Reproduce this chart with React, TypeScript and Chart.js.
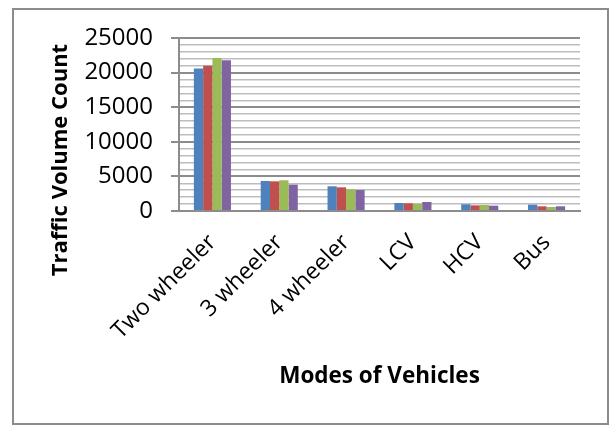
import { useEffect, useRef } from "react";
import { Chart, registerables } from "chart.js";

Chart.register(...registerables);

const categories = ["Two wheeler", "3 wheeler", "4 wheeler", "LCV", "HCV", "Bus"];
const series1 = [20600, 4340, 3570, 1160, 970, 920];
const series2 = [21000, 4290, 3420, 1110, 820, 680];
const series3 = [22100, 4440, 3130, 1010, 870, 580];
const series4 = [21800, 3810, 3030, 1300, 770, 680];
const seriesNames = ["Series1", "Series2", "Series3", "Series4"];
const seriesColors = ["#4F81BD", "#C0504D", "#9BBB59", "#8064A2"];
const yMax = 25000;
const yMinorStep = 1000;
const yMajorStep = 5000;
const yTitle = "Traffic Volume Count";
const xTitle = "Modes of Vehicles";

const MAJOR = "#8c8c8c";
const MINOR = "#bdbdbd";
const FONT = '"Open Sans", "Liberation Sans", sans-serif';

export default function App() {
  const ref = useRef<HTMLCanvasElement>(null);

  useEffect(() => {
    if (!ref.current) return;
    const titles = {
      id: "axisTitles",
      afterDraw(chart: any) {
        const ctx = chart.ctx;
        const area = chart.chartArea;
        ctx.save();
        ctx.fillStyle = "#000";
        ctx.font = `bold 22px ${FONT}`;
        ctx.textAlign = "center";
        ctx.textBaseline = "alphabetic";
        ctx.translate(67, 160);
        ctx.rotate(-Math.PI / 2);
        ctx.fillText(yTitle, 0, 0);
        ctx.restore();
        ctx.save();
        ctx.fillStyle = "#000";
        ctx.font = `bold 22.5px ${FONT}`;
        ctx.textAlign = "center";
        ctx.textBaseline = "alphabetic";
        ctx.fillText(xTitle, (area.left + area.right) / 2, 383);
        ctx.restore();
      },
    };
    const data = [series1, series2, series3, series4];
    const chart = new Chart(ref.current, {
      type: "bar",
      data: {
        labels: categories,
        datasets: data.map((d, i) => ({
          label: seriesNames[i],
          data: d,
          backgroundColor: seriesColors[i],
          borderWidth: 0,
          barPercentage: 1,
          categoryPercentage: 0.555,
        })),
      },
      options: {
        animation: false,
        responsive: false,
        devicePixelRatio: 1,
        layout: { padding: { left: 0, right: 36, top: 38, bottom: 0 } },
        plugins: { legend: { display: false }, tooltip: { enabled: false } },
        scales: {
          x: {
            grid: { display: false },
            border: { display: true, color: MAJOR, width: 2 },
            ticks: {
              minRotation: 45,
              maxRotation: 45,
              autoSkip: false,
              padding: 10,
              color: "#000",
              font: { family: FONT, size: 23 },
            },
            afterFit: (s: any) => {
              s.height = 217;
            },
          },
          y: {
            min: 0,
            max: yMax,
            border: { display: true, color: MAJOR, width: 2 },
            grid: {
              color: (c: any) => (c.tick && c.tick.value % yMajorStep === 0 ? MAJOR : MINOR),
              lineWidth: (c: any) => (c.tick && c.tick.value % yMajorStep === 0 ? 2 : 1.5),
              tickColor: (c: any) => (c.tick && c.tick.value % yMajorStep === 0 ? MAJOR : "rgba(0,0,0,0)"),
              tickLength: 8,
            },
            ticks: {
              stepSize: yMinorStep,
              autoSkip: false,
              padding: 18,
              color: "#000",
              font: { family: FONT, size: 24 },
              callback: (v: any) => (Number(v) % yMajorStep === 0 ? String(v) : ""),
            },
            afterFit: (s: any) => {
              s.width = 179;
            },
          },
        },
      },
      plugins: [titles],
    });
    return () => chart.destroy();
  }, []);

  return (
    <div style={{ position: "fixed", left: 0, top: 0, width: 616, height: 428, background: "#fff" }}>
      <canvas ref={ref} width={616} height={428} style={{ position: "absolute", left: 0, top: 0, width: 616, height: 428 }} />
      <div
        style={{
          position: "absolute",
          left: 12,
          top: 8,
          width: 597,
          height: 417,
          border: `2px solid ${MAJOR}`,
          boxSizing: "border-box",
          pointerEvents: "none",
        }}
      />
    </div>
  );
}
